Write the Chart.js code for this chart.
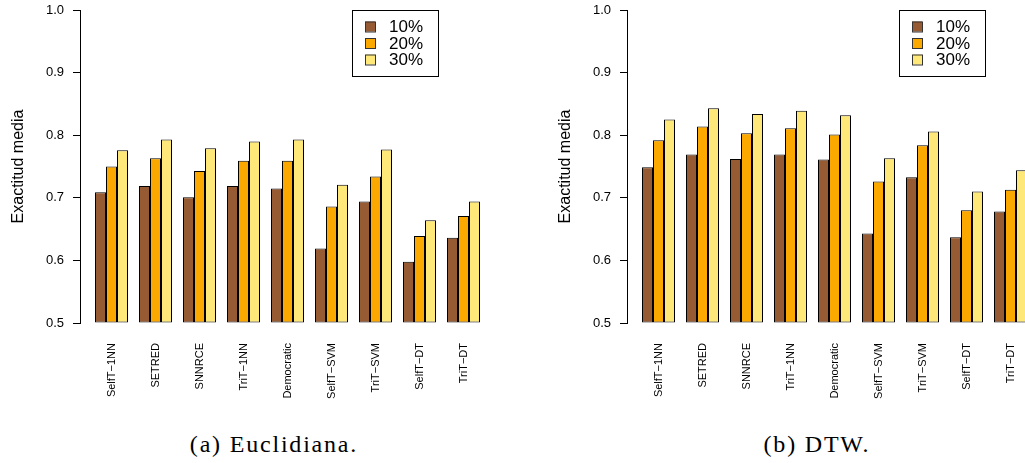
<!DOCTYPE html>
<html>
<head>
<meta charset="utf-8">
<script src="https://cdn.jsdelivr.net/npm/chart.js@4.4.1/dist/chart.umd.min.js"></script>
<style>
  html, body { margin: 0; padding: 0; background: #fff; }
  body { width: 1025px; height: 463px; overflow: hidden; position: relative; }
  .plot { position: absolute; top: 0; width: 512px; height: 420px; }
  .caption { position: absolute; top: 431px; width: 300px; text-align: center;
             font-family: "Liberation Serif", serif; font-size: 24px; letter-spacing: 1.8px; color: #000; }
</style>
</head>
<body>
<div class="plot" style="left:0px"><canvas id="chartA"></canvas></div>
<div class="plot" style="left:547px"><canvas id="chartB"></canvas></div>
<div class="caption" style="left:124px">(a) Euclidiana.</div>
<div class="caption" style="left:667px">(b) DTW.</div>
<script>
const categories = ["SelfT\u22121NN", "SETRED", "SNNRCE", "TriT\u22121NN", "Democratic", "SelfT\u2212SVM", "TriT\u2212SVM", "SelfT\u2212DT", "TriT\u2212DT"];
const seriesNames = ["10%", "20%", "30%"];
const seriesColors = ["#965b33", "#fba800", "#ffe87a"];
const yTicks = [0.5, 0.6, 0.7, 0.8, 0.9, 1.0];

// (a) Euclidiana
const euc10 = [0.709, 0.719, 0.701, 0.719, 0.715, 0.619, 0.694, 0.598, 0.636];
const euc20 = [0.750, 0.763, 0.743, 0.759, 0.759, 0.686, 0.734, 0.639, 0.671];
const euc30 = [0.776, 0.793, 0.779, 0.790, 0.793, 0.721, 0.777, 0.664, 0.694];

// (b) DTW
const dtw10 = [0.749, 0.769, 0.762, 0.769, 0.761, 0.643, 0.733, 0.637, 0.678];
const dtw20 = [0.792, 0.814, 0.803, 0.811, 0.801, 0.726, 0.784, 0.680, 0.713];
const dtw30 = [0.825, 0.843, 0.834, 0.839, 0.832, 0.763, 0.806, 0.710, 0.744];

// x range in group units, picked so the 11px bars land on whole pixels (416px wide area)
const xMin = -31.5 / 44;
const xMax = xMin + 416 / 44;

const legendBox = {
  id: 'legendBox',
  afterDraw(chart) {
    const ctx = chart.ctx;
    const x0 = chart.chartArea.left + 272, y0 = chart.chartArea.top;
    ctx.save();
    ctx.fillStyle = '#fff';
    ctx.fillRect(x0, y0, 86, 66);
    ctx.strokeStyle = '#000';
    ctx.lineWidth = 1;
    ctx.strokeRect(x0 + 0.5, y0 + 0.5, 86, 66);
    ctx.font = '17px "Liberation Sans", Arial, sans-serif';
    ctx.textBaseline = 'middle';
    chart.data.datasets.forEach((ds, i) => {
      const cy = y0 + 16.5 + i * 16.5;
      ctx.fillStyle = ds.backgroundColor;
      ctx.fillRect(x0 + 13, cy - 5, 10, 10);
      ctx.strokeStyle = '#333';
      ctx.strokeRect(x0 + 13.5, cy - 4.5, 10, 10);
      ctx.fillStyle = '#000';
      ctx.fillText(ds.label, x0 + 37, cy + 1);
    });
    ctx.restore();
  }
};

function makeChart(id, s10, s20, s30) {
  const series = [s10, s20, s30];
  return new Chart(document.getElementById(id), {
    type: 'bar',
    data: {
      datasets: series.map((vals, k) => ({
        label: seriesNames[k],
        data: vals.map((v, i) => ({x: i, y: v})),
        backgroundColor: seriesColors[k],
        borderColor: '#000',
        borderWidth: 1,
        borderSkipped: false,
        base: 0.5
      }))
    },
    options: {
      responsive: false,
      animation: false,
      categoryPercentage: 0.75,
      barPercentage: 1,
      layout: { padding: { left: 0, right: 16, top: 10, bottom: 0 } },
      plugins: { legend: { display: false }, tooltip: { enabled: false } },
      scales: {
        x: {
          type: 'linear',
          offset: false,
          min: xMin,
          max: xMax,
          grid: { display: false, drawTicks: false, offset: false },
          border: { display: false },
          afterBuildTicks: (scale) => { scale.ticks = categories.map((c, i) => ({value: i})); },
          afterFit: (scale) => { scale.height = 97; scale.paddingLeft = 0; scale.paddingRight = 0; },
          ticks: {
            autoSkip: false,
            minRotation: 90,
            maxRotation: 90,
            padding: 20,
            color: '#000',
            font: { family: '"Liberation Sans", Arial, sans-serif', size: 11 },
            callback: (v) => categories[v]
          }
        },
        y: {
          min: 0.5,
          max: 1.0,
          afterBuildTicks: (scale) => { scale.ticks = yTicks.map(v => ({value: v})); },
          afterFit: (scale) => { scale.width = 80; scale.paddingTop = 0; scale.paddingBottom = 0; },
          grid: { drawOnChartArea: false, drawTicks: true, tickLength: 7, color: '#000' },
          border: { display: true, color: '#000', width: 1 },
          ticks: {
            padding: 9,
            color: '#000',
            font: { family: '"Liberation Sans", Arial, sans-serif', size: 13 },
            callback: (v) => v.toFixed(1)
          },
          title: {
            display: true,
            text: 'Exactitud media',
            color: '#000',
            padding: { top: 9, bottom: 0 },
            font: { family: '"Liberation Sans", Arial, sans-serif', size: 16 }
          }
        }
      }
    },
    plugins: [legendBox]
  });
}

function sizeCanvas(id) {
  const c = document.getElementById(id);
  c.width = 512; c.height = 420;
  c.style.width = '512px'; c.style.height = '420px';
}
sizeCanvas('chartA');
sizeCanvas('chartB');
makeChart('chartA', euc10, euc20, euc30);
makeChart('chartB', dtw10, dtw20, dtw30);
</script>
</body>
</html>
